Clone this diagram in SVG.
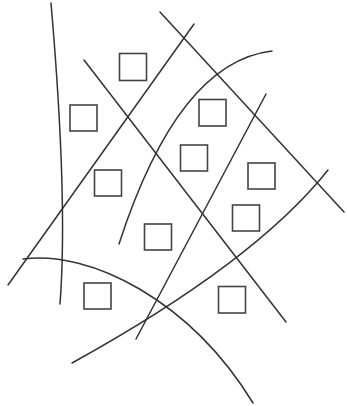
<svg xmlns="http://www.w3.org/2000/svg" width="347" height="406" viewBox="0 0 347 406">
<style>
.ln{fill:none;stroke:#333;stroke-width:1.5;stroke-linecap:round}
.sq{fill:#fff;stroke:#444;stroke-width:1.6}
</style>
<rect width="347" height="406" fill="#fff"/>
<g id="connectors">
<path class="ln" d="M51 3 Q68 200 60 304"/>
<path class="ln" d="M8 285 L194 24"/>
<path class="ln" d="M84 60 L286 322"/>
<path class="ln" d="M160 12 L344 212"/>
<path class="ln" d="M72 363 Q255 262 328 170"/>
<path class="ln" d="M272 51 Q178 62 119 244"/>
<path class="ln" d="M266 94 L136 339"/>
<path class="ln" d="M23 259 C90 250 190 300 253 403"/>
</g>
<g id="n1"><rect class="sq" x="119.5" y="53.5" width="27" height="27"/></g>
<g id="n2"><rect class="sq" x="70" y="105" width="27" height="26"/></g>
<g id="n3"><rect class="sq" x="94.5" y="170" width="27" height="26"/></g>
<g id="n4"><rect class="sq" x="199" y="99.5" width="27" height="26.5"/></g>
<g id="n5"><rect class="sq" x="180.5" y="145" width="27" height="26"/></g>
<g id="n6"><rect class="sq" x="248" y="163" width="27" height="26"/></g>
<g id="n7"><rect class="sq" x="144.5" y="224" width="27" height="26"/></g>
<g id="n8"><rect class="sq" x="84" y="283" width="27" height="26"/></g>
<g id="n9"><rect class="sq" x="232.5" y="205" width="27" height="26"/></g>
<g id="n10"><rect class="sq" x="218.5" y="286.5" width="27" height="26.5"/></g>
</svg>
